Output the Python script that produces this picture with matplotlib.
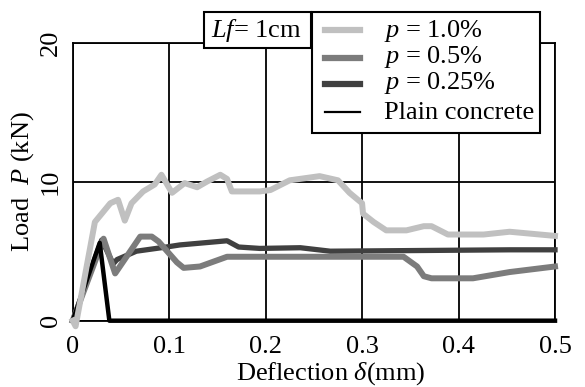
import matplotlib
matplotlib.use("Agg")
import matplotlib.pyplot as plt
from matplotlib.lines import Line2D
from matplotlib.patches import Rectangle

plt.rcParams["font.family"] = ["Liberation Serif", "DejaVu Serif"]
plt.rcParams["mathtext.fontset"] = "custom"
plt.rcParams["mathtext.rm"] = "Liberation Serif"
plt.rcParams["mathtext.it"] = "Liberation Serif:italic"

# Daten
x_10 = [0, 0.003, 0.023, 0.039, 0.047, 0.054, 0.061, 0.073, 0.085, 0.092, 0.103,
        0.116, 0.129, 0.139, 0.153, 0.160, 0.165, 0.194, 0.205, 0.225, 0.256,
        0.275, 0.287, 0.300, 0.301, 0.312, 0.325, 0.346, 0.364, 0.372, 0.389,
        0.426, 0.453, 0.5]
p_10 = [0, -0.4, 7.1, 8.45, 8.7, 7.2, 8.45, 9.3, 9.8, 10.5, 9.2,
        9.9, 9.6, 10.0, 10.5, 10.2, 9.3, 9.3, 9.4, 10.1, 10.4,
        10.1, 9.2, 8.45, 7.7, 7.1, 6.5, 6.5, 6.8, 6.8, 6.2,
        6.2, 6.4, 6.1]

x_05 = [0, 0.032, 0.044, 0.070, 0.082, 0.089, 0.108, 0.115, 0.132, 0.160, 0.194,
        0.343, 0.357, 0.364, 0.372, 0.415, 0.453, 0.5]
p_05 = [0, 5.9, 3.4, 6.05, 6.05, 5.7, 4.2, 3.8, 3.9, 4.6, 4.6,
        4.6, 3.9, 3.2, 3.05, 3.05, 3.5, 3.9]

x_025 = [0, 0.030, 0.042, 0.046, 0.066, 0.097, 0.111, 0.160, 0.172, 0.194, 0.236,
         0.267, 0.453, 0.5]
p_025 = [0, 5.8, 4.1, 4.4, 5.0, 5.3, 5.45, 5.75, 5.3, 5.2, 5.25,
         5.0, 5.1, 5.1]

x_plain = [0, 0.028, 0.038, 0.5]
p_plain = [0, 5.6, 0, 0]

labels = ["$p$ = 1.0%", "$p$ = 0.5%", "$p$ = 0.25%", "Plain concrete"]
farben = ["#c0c0c0", "#7c7c7c", "#404040", "black"]

W, H = 585, 387
fig = plt.figure(figsize=(W / 100, H / 100), dpi=100)
ax = fig.add_axes([72.7 / W, 1 - 320.7 / H, 482.3 / W, 278 / H])

fs = 19

ax.plot(x_025, p_025, color=farben[2], lw=3.8, zorder=3, clip_on=False, solid_joinstyle="round")
ax.plot(x_05, p_05, color=farben[1], lw=4.3, zorder=4, clip_on=False, solid_joinstyle="round")
ax.plot(x_plain, p_plain, color=farben[3], lw=3.2, zorder=5, clip_on=False)
ax.plot(x_10, p_10, color=farben[0], lw=4.3, zorder=6, clip_on=False, solid_joinstyle="round")

ax.set_xlim(0, 0.5)
ax.set_ylim(0, 20)
ax.set_xticks([0, 0.1, 0.2, 0.3, 0.4, 0.5])
ax.set_xticklabels(["0", "0.1", "0.2", "0.3", "0.4", "0.5"], fontsize=fs)
ax.set_yticks([0, 10, 20])
ax.set_yticklabels(["0", "10", "20"], fontsize=fs, rotation=90, va="center")
ax.tick_params(length=0)
ax.tick_params(axis="x", pad=11)
ax.tick_params(axis="y", pad=8)
ax.grid(True, color="black", lw=1.3)
ax.set_axisbelow(True)
for s in ax.spines.values():
    s.set_linewidth(1.3)

ax.set_xlabel("Deflection $\\delta$(mm)", fontsize=fs, va="baseline")
ax.xaxis.set_label_coords(0.535, -(380 - 320.7) / 278)
ax.set_ylabel("Load  $P$ (kN)", fontsize=fs)
ax.yaxis.set_label_coords(-(72.7 - 36) / 482.3, 0.5)

# Kasten "Lf = 1cm" und Legende von Hand
def fx(x):
    return x / W

def fy(y):
    return 1 - y / H

fig.add_artist(Rectangle((fx(204), fy(47.7)), fx(311) - fx(204), fy(11.7) - fy(47.7),
                         transform=fig.transFigure, facecolor="white",
                         edgecolor="black", lw=1.5, zorder=10))
fig.text(fx(211), fy(37), "$Lf$= 1cm", fontsize=fs, va="baseline", zorder=11)

fig.add_artist(Rectangle((fx(312), fy(133)), fx(539.5) - fx(312), fy(11.7) - fy(133),
                         transform=fig.transFigure, facecolor="white",
                         edgecolor="black", lw=1.5, zorder=10))

zeilen_y = [30, 58, 84, 111.5]
text_y = [37, 63, 89, 119]
for i in range(4):
    breite = 4.5 if i < 3 else 1.6
    fig.add_artist(Line2D([fx(325), fx(360)], [fy(zeilen_y[i]), fy(zeilen_y[i])],
                          transform=fig.transFigure, color=farben[i], lw=breite,
                          zorder=11))
    fig.text(fx(384), fy(text_y[i]), labels[i], fontsize=fs, va="baseline", zorder=11)

fig.savefig("out.png", dpi=100)
